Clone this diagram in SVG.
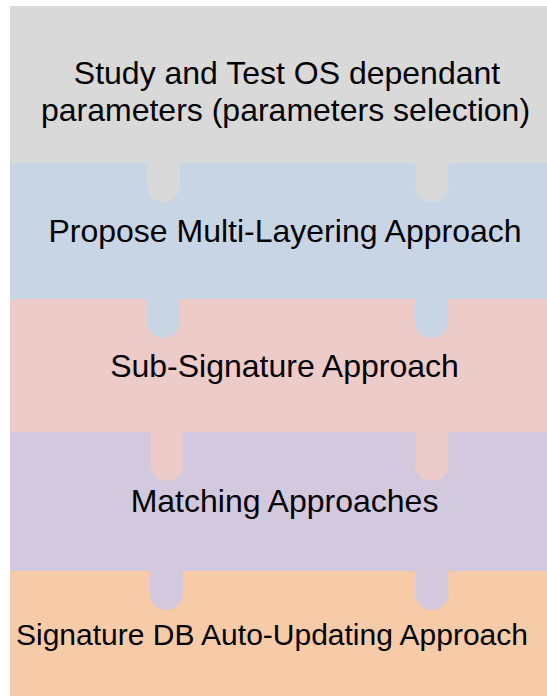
<svg xmlns="http://www.w3.org/2000/svg" width="547" height="696" viewBox="0 0 547 696">
<style>
text{font-family:"Liberation Sans",Arial,sans-serif;font-size:32px;fill:#000;text-anchor:middle}
.s{font-size:30px}
.g{fill:#D9D9D9}.b{fill:#C8D5E5}.p{fill:#ECCBC9}.v{fill:#D2C9DE}.o{fill:#F8CBA8}
</style>
<rect width="547" height="696" fill="#fff"/>
<g id="step5">
<rect class="o" x="10" y="571" width="537" height="125"/>
<text class="s" x="272" y="645">Signature DB Auto-Updating Approach</text>
</g>
<g id="step4">
<rect class="v" x="10" y="432" width="537" height="139"/>
<path class="v" d="M150 570V593.5A16.5 16.5 0 0 0 183 593.5V570Z"/>
<path class="v" d="M415.5 570V593.5A16.5 16.5 0 0 0 448.5 593.5V570Z"/>
<text x="284.5" y="512">Matching Approaches</text>
</g>
<g id="step3">
<rect class="p" x="10" y="299" width="537" height="133"/>
<path class="p" d="M150.5 431V464.5A16.5 16.5 0 0 0 183.5 464.5V431Z"/>
<path class="p" d="M415.5 431V464.5A16.5 16.5 0 0 0 448.5 464.5V431Z"/>
<text x="284.5" y="377">Sub-Signature Approach</text>
</g>
<g id="step2">
<rect class="b" x="10" y="163" width="537" height="136"/>
<path class="b" d="M147 298V321.5A16.5 16.5 0 0 0 180 321.5V298Z"/>
<path class="b" d="M415.5 298V321.5A16.5 16.5 0 0 0 448.5 321.5V298Z"/>
<text x="285" y="242">Propose Multi-Layering Approach</text>
</g>
<g id="step1">
<rect class="g" x="10" y="6" width="537" height="157"/>
<path class="g" d="M147 162V185.5A16.5 16.5 0 0 0 180 185.5V162Z"/>
<path class="g" d="M415.5 162V185.5A16.5 16.5 0 0 0 448.5 185.5V162Z"/>
<text x="287" y="84">Study and Test OS dependant</text>
<text x="285.5" y="121">parameters (parameters selection)</text>
</g>
<g id="connectors"></g>
</svg>
